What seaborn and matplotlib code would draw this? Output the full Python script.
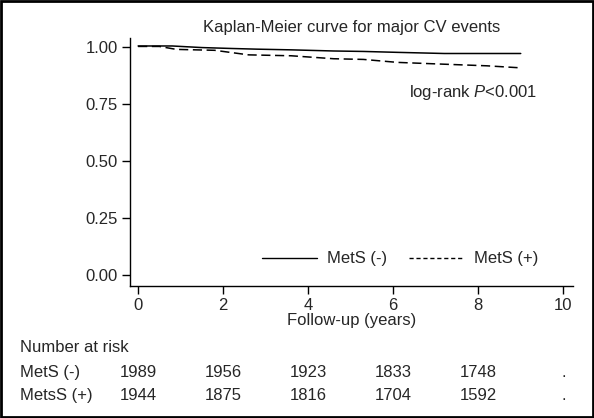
import matplotlib
matplotlib.use("Agg")
import matplotlib.pyplot as plt
import matplotlib.transforms as mtransforms
from matplotlib.lines import Line2D
from matplotlib.patches import Rectangle
import pandas as pd
import seaborn as sns

sns.set_style("ticks")
plt.rcParams['font.family'] = ['Liberation Sans Narrow', 'Liberation Sans', 'DejaVu Sans']
plt.rcParams['mathtext.fontset'] = 'custom'
plt.rcParams['mathtext.it'] = 'Liberation Sans:italic'
plt.rcParams['mathtext.rm'] = 'Liberation Sans'

# dados
tempo_neg = [0, 0.8, 1.5, 2.2, 2.8, 3.6, 4.6, 5.3, 6.1, 7.2, 9.0]
surv_neg = [1.005, 1.005, 0.998, 0.994, 0.991, 0.988, 0.983, 0.981, 0.977, 0.972, 0.972]
tempo_pos = [0, 0.5, 0.9, 1.8, 2.6, 3.6, 4.6, 5.3, 6.1, 7.2, 8.2, 9.0]
surv_pos = [1.003, 1.003, 0.99, 0.986, 0.966, 0.962, 0.949, 0.946, 0.933, 0.925, 0.918, 0.909]

anos = [0, 2, 4, 6, 8, 10]
risco_neg = ["1989", "1956", "1923", "1833", "1748", "."]
risco_pos = ["1944", "1875", "1816", "1704", "1592", "."]
grupos = ["MetS (-)", "MetS (+)"]
linhas_tabela = ["MetS (-)", "MetsS (+)"]

df_neg = pd.DataFrame({"t": tempo_neg, "s": surv_neg})
df_pos = pd.DataFrame({"t": tempo_pos, "s": surv_pos})

fig = plt.figure(figsize=(5.94, 4.18), dpi=100)
ax = fig.add_axes([0.2189, 0.3158, 0.7458, 0.5933])

sns.lineplot(data=df_neg, x="t", y="s", ax=ax, color="black", linewidth=1.1, linestyle="-")
sns.lineplot(data=df_pos, x="t", y="s", ax=ax, color="black", linewidth=1.1, linestyle=(0, (6, 3)))

ax.set_xlim(-0.19, 10.23)
ax.set_ylim(-0.048, 1.04)
ax.set_xticks(anos)
ax.set_yticks([0, 0.25, 0.5, 0.75, 1.0])
ax.set_yticklabels(["0.00", "0.25", "0.50", "0.75", "1.00"])
ax.tick_params(axis="both", labelsize=12, length=6, width=1, color="black", pad=3)
ax.set_xlabel("Follow-up (years)", fontsize=12, labelpad=0)
ax.set_ylabel("")
ax.set_title("Kaplan-Meier curve for major CV events", fontsize=12, pad=4)
sns.despine(ax=ax)
for sp in ["left", "bottom"]:
    ax.spines[sp].set_color("black")
    ax.spines[sp].set_linewidth(1)

ax.text(0.919, 0.78, "log-rank $\\mathit{P}$<0.001", transform=ax.transAxes,
        ha="right", va="center", fontsize=12)

handles = [Line2D([], [], color="black", linewidth=1),
           Line2D([], [], color="black", linewidth=1, linestyle=(0, (3, 2)))]
ax.legend(handles, grupos, loc="center right", bbox_to_anchor=(0.955, 0.109), ncol=2,
          frameon=False, fontsize=12, handlelength=3.3, handletextpad=0.6, columnspacing=1.3)

# tabela de número em risco
trans = mtransforms.blended_transform_factory(ax.transData, fig.transFigure)
fig.text(20 / 594, 0.1675, "Number at risk", fontsize=12, va="center", ha="left")
for y, nome, valores in [(0.110, linhas_tabela[0], risco_neg), (0.055, linhas_tabela[1], risco_pos)]:
    fig.text(20 / 594, y, nome, fontsize=12, va="center", ha="left")
    for x, v in zip(anos, valores):
        ax.text(x, y, v, transform=trans, fontsize=12, va="center", ha="center")

fig.patches.append(Rectangle((0.002, 0.003), 0.996, 0.994, transform=fig.transFigure,
                             fill=False, edgecolor="black", linewidth=2))

plt.savefig("out.png", dpi=100)
